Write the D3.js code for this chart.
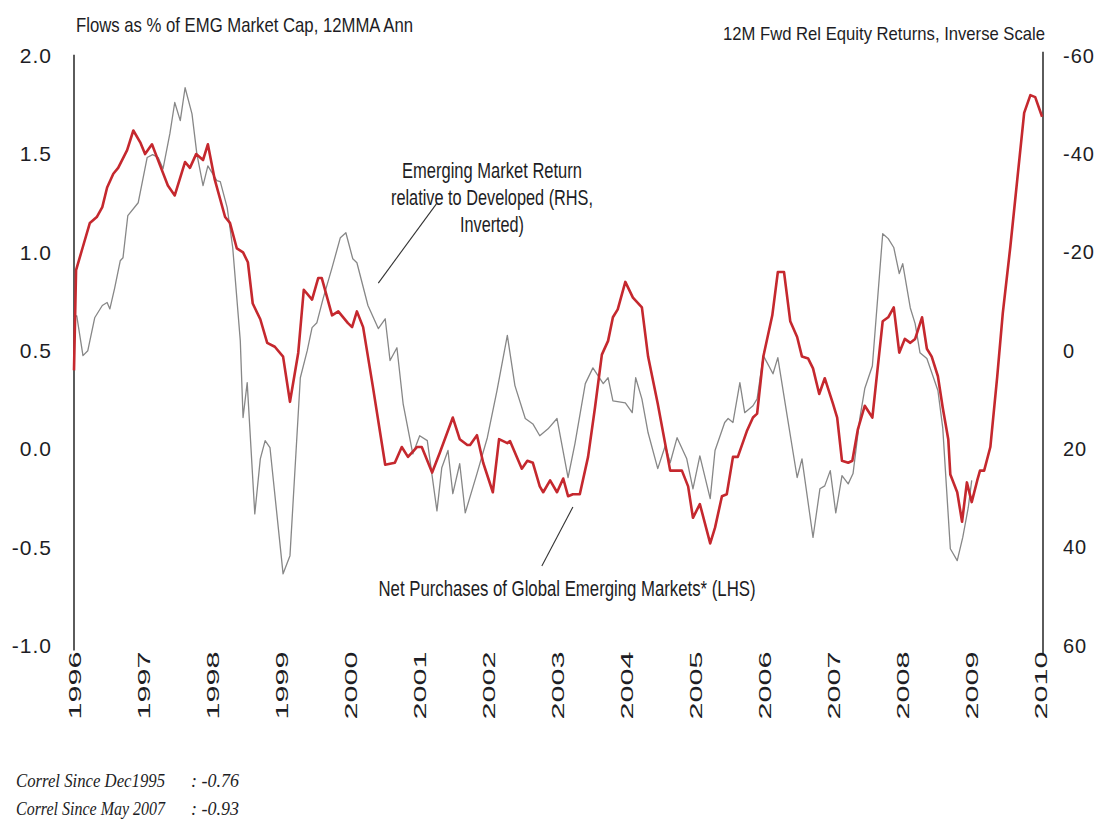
<!DOCTYPE html>
<html>
<head>
<meta charset="utf-8">
<script src="https://cdn.jsdelivr.net/npm/d3@7/dist/d3.min.js"></script>
<style>
  html, body { margin: 0; padding: 0; background: #fff; }
  svg { display: block; }
</style>
</head>
<body>
<svg id="chart" width="1098" height="823"></svg>
<script>
// ---------- DATA ----------
// Net Purchases of Global Emerging Markets* (LHS), flows as % of EMG market cap
const redDates = [1996.00,1996.03,1996.13,1996.23,1996.33,1996.41,1996.48,1996.57,1996.64,1996.77,1996.86,1996.96,
  1997.03,1997.13,1997.25,1997.36,1997.46,1997.61,1997.68,1997.77,1997.87,1997.94,
  1998.04,1998.19,1998.26,1998.36,1998.45,1998.52,1998.59,1998.70,1998.80,1998.91,
  1999.03,1999.13,1999.25,1999.33,1999.45,1999.54,1999.59,1999.74,1999.83,1999.97,
  2000.03,2000.10,2000.19,2000.33,2000.51,2000.65,2000.75,2000.84,2000.97,
  2001.04,2001.19,2001.30,2001.49,2001.59,2001.70,2001.74,2001.84,2001.93,
  2002.07,2002.16,2002.28,2002.32,2002.49,2002.57,2002.65,2002.75,2002.80,2002.90,
  2003.00,2003.09,2003.16,2003.23,2003.33,2003.45,2003.55,2003.65,2003.74,2003.81,2003.88,2003.99,
  2004.10,2004.23,2004.32,2004.46,2004.64,2004.81,2004.90,2004.97,
  2005.07,2005.22,2005.29,2005.39,2005.46,2005.55,2005.62,2005.75,2005.84,2005.90,2005.99,
  2006.12,2006.20,2006.29,2006.38,2006.48,2006.55,2006.64,2006.71,2006.80,2006.88,
  2007.00,2007.06,2007.13,2007.22,2007.28,2007.36,2007.46,2007.57,2007.72,2007.80,2007.88,2007.96,
  2008.04,2008.12,2008.19,2008.29,2008.36,2008.43,2008.52,2008.59,2008.67,2008.70,2008.80,2008.87,2008.94,
  2009.01,2009.09,2009.13,2009.19,2009.28,2009.38,2009.46,2009.57,2009.67,2009.77,2009.86,2009.93,2010.03];
const redValues = [0.40,0.91,1.03,1.15,1.18,1.23,1.33,1.40,1.43,1.52,1.62,1.56,
  1.50,1.55,1.44,1.34,1.29,1.46,1.43,1.50,1.47,1.55,
  1.37,1.18,1.15,1.02,1.00,0.95,0.74,0.66,0.54,0.52,
  0.47,0.24,0.49,0.81,0.76,0.87,0.87,0.68,0.70,0.64,
  0.62,0.70,0.62,0.32,-0.08,-0.07,0.01,-0.04,0.01,
  0.01,-0.12,-0.02,0.16,0.05,0.02,0.02,0.07,-0.07,
  -0.22,0.05,0.03,0.04,-0.10,-0.06,-0.07,-0.19,-0.22,-0.16,
  -0.22,-0.15,-0.24,-0.23,-0.23,-0.04,0.21,0.48,0.55,0.67,0.71,0.85,
  0.77,0.72,0.47,0.23,-0.11,-0.11,-0.19,-0.35,
  -0.28,-0.48,-0.40,-0.24,-0.23,-0.04,-0.04,0.09,0.16,0.18,0.47,
  0.68,0.90,0.90,0.65,0.57,0.47,0.46,0.41,0.28,0.36,
  0.23,0.16,-0.06,-0.07,-0.06,0.10,0.22,0.16,0.65,0.67,0.72,0.49,
  0.56,0.54,0.56,0.67,0.51,0.47,0.37,0.21,0.05,-0.13,-0.22,-0.37,-0.17,
  -0.27,-0.16,-0.11,-0.11,0.01,0.37,0.69,1.03,1.37,1.71,1.80,1.79,1.69];

// Emerging Market Return relative to Developed (RHS, inverted), 12M fwd %
const grayDates = [1996.00,1996.04,1996.13,1996.20,1996.30,1996.41,1996.48,1996.52,1996.59,1996.67,1996.71,1996.78,1996.93,
  1997.06,1997.14,1997.22,1997.29,1997.39,1997.46,1997.54,1997.61,1997.71,1997.78,1997.87,1997.94,
  1998.07,1998.12,1998.22,1998.30,1998.41,1998.45,1998.51,1998.62,1998.70,1998.77,1998.84,
  1999.03,1999.13,1999.28,1999.38,1999.45,1999.52,1999.61,1999.74,1999.86,1999.94,
  2000.04,2000.10,2000.26,2000.41,2000.51,2000.58,2000.68,2000.77,2000.91,
  2001.01,2001.12,2001.26,2001.33,2001.42,2001.49,2001.59,2001.67,2001.84,2001.99,
  2002.13,2002.28,2002.39,2002.54,2002.65,2002.75,2002.87,
  2003.00,2003.16,2003.26,2003.41,2003.52,2003.67,2003.74,2003.81,2003.99,
  2004.09,2004.14,2004.23,2004.32,2004.46,2004.57,2004.64,2004.74,2004.88,2004.97,
  2005.07,2005.22,2005.29,2005.43,2005.48,2005.55,2005.65,2005.72,2005.84,2005.90,2005.99,
  2006.13,2006.20,2006.33,2006.48,2006.55,2006.71,2006.81,2006.88,2006.96,
  2007.04,2007.13,2007.22,2007.29,2007.39,2007.46,2007.57,2007.72,2007.80,2007.88,2007.96,
  2008.01,2008.12,2008.19,2008.26,2008.36,2008.52,2008.59,2008.70,2008.80,2008.88,2008.96,2009.01];
const grayValues = [-6.7,-7.1,1.0,0.0,-6.7,-9.2,-9.8,-8.5,-12.8,-18.3,-18.9,-27.5,-30.1,
  -39.3,-39.9,-39.3,-37.0,-44.2,-50.5,-46.8,-53.5,-48.2,-40.1,-33.6,-37.6,
  -34.6,-34.4,-29.1,-21.0,-2.0,13.6,6.5,33.2,22.0,18.3,19.7,
  45.4,41.7,5.5,0.0,-4.7,-5.7,-10.6,-16.9,-23.0,-24.0,
  -18.7,-17.9,-9.2,-4.5,-6.5,2.0,-0.6,10.8,21.0,
  17.3,18.3,32.6,23.8,20.3,29.1,23.0,33.0,25.0,17.7,
  8.1,-3.1,7.1,13.8,14.9,17.3,15.9,
  13.8,25.8,18.9,6.7,3.5,6.7,5.5,10.2,10.6,
  12.6,5.5,9.8,16.7,24.0,19.3,22.8,17.7,22.0,28.1,
  21.4,30.1,20.3,14.6,13.8,14.6,6.5,12.6,11.2,9.8,1.0,
  4.7,1.4,12.8,25.8,22.0,38.0,28.1,27.5,24.4,
  33.0,25.4,27.1,25.0,13.6,7.7,3.1,-23.8,-22.8,-21.0,-15.7,
  -17.7,-8.7,-5.5,0.4,1.6,8.1,15.7,40.3,42.7,38.0,31.9,26.4];

// Tick labels
const leftTicks = [2.0, 1.5, 1.0, 0.5, 0.0, -0.5, -1.0];
const rightTicks = [-60, -40, -20, 0, 20, 40, 60];
const yearTicks = [1996,1997,1998,1999,2000,2001,2002,2003,2004,2005,2006,2007,2008,2009,2010];

// Text
const leftTitle = "Flows as % of EMG Market Cap, 12MMA Ann";
const rightTitle = "12M Fwd Rel Equity Returns, Inverse Scale";
const grayLabel = ["Emerging Market Return", "relative to Developed (RHS,", "Inverted)"];
const redLabel = "Net Purchases of Global Emerging Markets* (LHS)";
const correlNames = ["Correl Since Dec1995", "Correl Since May 2007"];
const correlValues = [": -0.76", ": -0.93"];

// ---------- CHART ----------
const svg = d3.select("#chart");
const SANS = "'Liberation Sans', Arial, sans-serif";
const TXT = "#1d1d24";

const x = d3.scaleLinear().domain([1996, 2010.043]).range([74, 1043]);
const yL = d3.scaleLinear().domain([-1, 2]).range([645.6, 55.8]);
const yR = d3.scaleLinear().domain([60, -60]).range([645.6, 55.8]);

// left axis
const gL = svg.append("g").attr("transform", `translate(${x(1996)},0)`)
  .call(d3.axisLeft(yL).tickValues(leftTicks).tickSize(0).tickPadding(22)
    .tickFormat(d => d.toFixed(1)));
gL.select(".domain").remove();
gL.selectAll("text").attr("font-family", SANS).attr("font-size", 21)
  .attr("fill", TXT).attr("letter-spacing", 1);
svg.append("line").attr("x1", x(1996)).attr("x2", x(1996))
  .attr("y1", yL(2) - 1).attr("y2", yL(-1) + 5)
  .attr("stroke", "#333").attr("stroke-width", 1.6);

// right axis
const gR = svg.append("g").attr("transform", `translate(${x.range()[1]},0)`)
  .call(d3.axisRight(yR).tickValues(rightTicks).tickSize(0).tickPadding(20)
    .tickFormat(d => String(d)));
gR.select(".domain").remove();
gR.selectAll("text").attr("font-family", SANS).attr("font-size", 20)
  .attr("fill", TXT).attr("letter-spacing", 1);
svg.append("line").attr("x1", x.range()[1]).attr("x2", x.range()[1])
  .attr("y1", yR(-60) - 4).attr("y2", yR(60) + 9)
  .attr("stroke", "#333").attr("stroke-width", 1.6);

// bottom (year) axis
const gB = svg.append("g").attr("transform", `translate(0,${yL(-1) + 6})`)
  .call(d3.axisBottom(x).tickValues(yearTicks).tickSize(0).tickFormat(d3.format("d")));
gB.select(".domain").remove();
gB.selectAll("text")
  .attr("font-family", SANS).attr("font-size", 17).attr("fill", TXT)
  .attr("text-anchor", "end").attr("y", 0).attr("x", 0).attr("dy", "0.36em")
  .attr("transform", "rotate(-90)")
  .attr("textLength", 68).attr("lengthAdjust", "spacingAndGlyphs");

// series
const gray = grayDates.map((t, i) => ({t, v: grayValues[i]}));
const red = redDates.map((t, i) => ({t, v: redValues[i]}));

svg.append("path").datum(gray)
  .attr("d", d3.line().x(d => x(d.t)).y(d => yR(d.v)))
  .attr("fill", "none").attr("stroke", "#878787").attr("stroke-width", 1.3)
  .attr("stroke-linejoin", "round");

svg.append("path").datum(red)
  .attr("d", d3.line().x(d => x(d.t)).y(d => yL(d.v)))
  .attr("fill", "none").attr("stroke", "#c5282e").attr("stroke-width", 2.6)
  .attr("stroke-linejoin", "round");

// titles
svg.append("text").attr("x", 76).attr("y", 32).text(leftTitle)
  .attr("font-family", SANS).attr("font-size", 21).attr("fill", TXT)
  .attr("textLength", 337).attr("lengthAdjust", "spacingAndGlyphs");
svg.append("text").attr("x", 723).attr("y", 40).text(rightTitle)
  .attr("font-family", SANS).attr("font-size", 18.5).attr("fill", TXT)
  .attr("textLength", 322).attr("lengthAdjust", "spacingAndGlyphs");

// annotation: gray series
const grayLens = [180, 202, 64];
grayLabel.forEach((s, i) => {
  svg.append("text").attr("x", 492).attr("y", 178 + i * 27).text(s)
    .attr("text-anchor", "middle")
    .attr("font-family", SANS).attr("font-size", 22).attr("fill", TXT)
    .attr("textLength", grayLens[i]).attr("lengthAdjust", "spacingAndGlyphs");
});
svg.append("line")
  .attr("x1", x(2000.41)).attr("y1", yL(0.844))
  .attr("x2", x(2001.26)).attr("y2", yL(1.251))
  .attr("stroke", "#333").attr("stroke-width", 1.1);

// annotation: red series
svg.append("text").attr("x", 567).attr("y", 596).text(redLabel)
  .attr("text-anchor", "middle")
  .attr("font-family", SANS).attr("font-size", 22).attr("fill", TXT)
  .attr("textLength", 377).attr("lengthAdjust", "spacingAndGlyphs");
svg.append("line")
  .attr("x1", x(2002.78)).attr("y1", yL(-0.595))
  .attr("x2", x(2003.23)).attr("y2", yL(-0.295))
  .attr("stroke", "#333").attr("stroke-width", 1.1);

// correlation notes
correlNames.forEach((s, i) => {
  svg.append("text").attr("x", 16).attr("y", 787 + i * 28).text(s)
    .attr("font-family", "'Liberation Serif', 'Times New Roman', serif")
    .attr("font-style", "italic").attr("font-size", 18).attr("fill", TXT)
    .attr("textLength", 149).attr("lengthAdjust", "spacingAndGlyphs");
  svg.append("text").attr("x", 191).attr("y", 787 + i * 28).text(correlValues[i])
    .attr("font-family", "'Liberation Serif', 'Times New Roman', serif")
    .attr("font-style", "italic").attr("font-size", 18).attr("fill", TXT);
});
</script>
</body>
</html>
